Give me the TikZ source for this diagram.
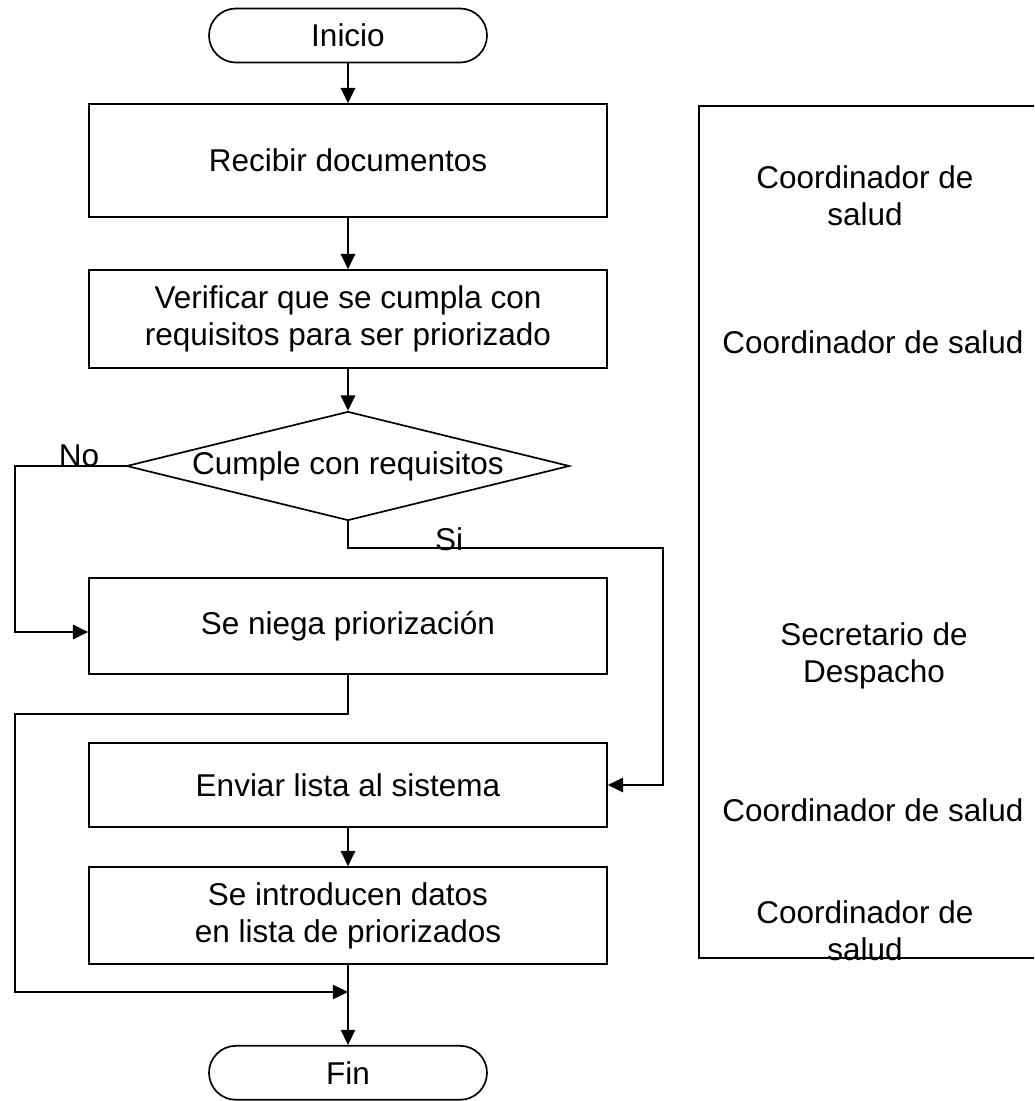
\documentclass[tikz,border=0pt]{standalone}
\usepackage{fontspec}
\setmainfont{Liberation Sans}
\usetikzlibrary{arrows.meta,positioning,shapes.geometric}

\begin{document}
\begin{tikzpicture}[
    font=\fontsize{22.4}{26.1}\selectfont,
    line width=1.2pt,
    box/.style={draw, minimum width=12.95cm, align=center, inner sep=2pt},
    term/.style={draw, minimum width=6.95cm, minimum height=1.35cm, rounded corners=0.675cm},
    decision/.style={draw, diamond, aspect=4.06, inner sep=0pt,
                     minimum width=11.075cm, minimum height=2.725cm},
    resp/.style={align=center, inner sep=1pt},
    lbl/.style={anchor=base, inner sep=0pt},
    flow/.style={-{Triangle[length=0.38cm, width=0.36cm]}}
]
    \useasboundingbox (0,0) rectangle (25.85,-27.525);

    % main flow
    \node[term] (inicio) at (8.7,-0.8875) {Inicio};
    \node[box, minimum height=2.825cm] (recibir) at (8.7,-4.0125) {Recibir documentos};
    \node[box, minimum height=2.45cm] (verificar) at (8.7,-7.975) {Verificar que se cumpla con\\requisitos para ser priorizado};
    \node[decision] (cumple) at (8.7,-11.65) {Cumple con requisitos};
    \node[box, minimum height=2.4cm] (niega) at (8.7,-15.65) {Se niega priorización};
    \node[box, minimum height=2.1cm] (enviar) at (8.7,-19.625) {Enviar lista al sistema};
    \node[box, minimum height=2.425cm] (introducen) at (8.7,-22.8875) {Se introducen datos\\en lista de priorizados};
    \node[term] (fin) at (8.7,-26.82) {Fin};
    \coordinate (join) at (8.7,-24.8);

    \draw[flow] (inicio) -- (recibir);
    \draw[flow] (recibir) -- (verificar);
    \draw[flow] (verificar) -- (cumple);
    \draw[flow] (enviar) -- (introducen);
    \draw[flow] (introducen) -- (fin);

    % decision branches
    \draw[flow] (cumple.west) -- (0.375,-11.65) |- ([yshift=-0.15cm]niega.west);
    \node[lbl] (no) at (1.975,-11.65) {No};
    \draw[flow] (cumple.south) |- (16.575,-13.7) |- (enviar.east);
    \node[lbl] (si) at (11.225,-13.75) {Si};
    \draw[flow] (niega.south) |- (0.375,-17.85) |- (join);

    % responsibles
    \draw (25.85,-2.65) -| (17.475,-23.95) -- (25.85,-23.95);
    \node[resp] (resp1) at (21.625,-4.9) {Coordinador de\\salud};
    \node[resp] (resp2) at (21.825,-8.55) {Coordinador de salud};
    \node[resp] (resp3) at (21.85,-16.4) {Secretario de\\Despacho};
    \node[resp] (resp4) at (21.825,-20.25) {Coordinador de salud};
    \node[resp] (resp5) at (21.625,-23.275) {Coordinador de\\salud};
\end{tikzpicture}
\end{document}
